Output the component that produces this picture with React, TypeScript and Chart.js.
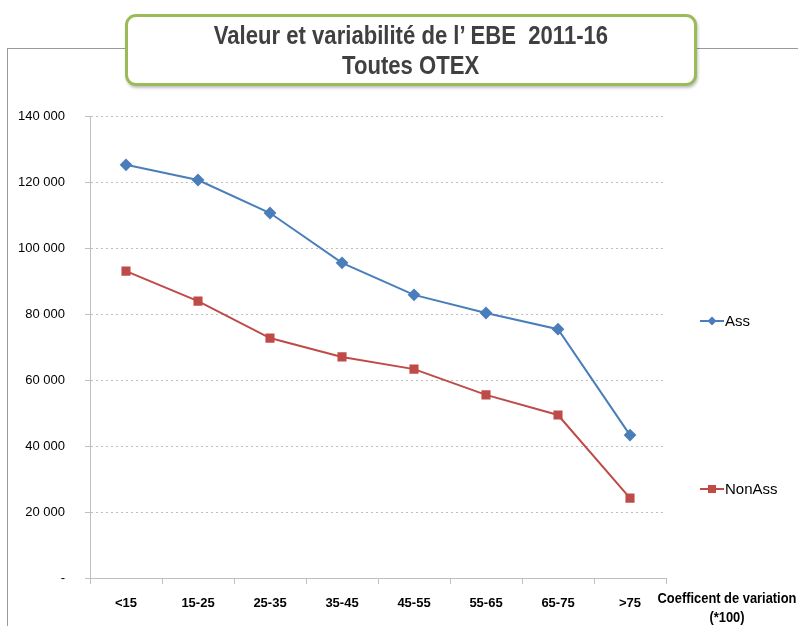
import React, { useEffect, useRef } from "react";
import { Chart, registerables } from "chart.js";

Chart.register(...registerables);

const categories = ["<15", "15-25", "25-35", "35-45", "45-55", "55-65", "65-75", ">75"];
const assValues = [125200, 120600, 110600, 95500, 85800, 80300, 75400, 43300];
const nonAssValues = [93000, 83900, 72700, 67000, 63300, 55500, 49400, 24200];
const yTickValues = [0, 20000, 40000, 60000, 80000, 100000, 120000, 140000];
const titleLines = ["Valeur et variabilité de l\u2019 EBE  2011-16", "Toutes OTEX"];
const xAxisTitle = ["Coefficent de variation", "(*100)"];

const fmt = (v: number) =>
  v === 0 ? "-" : String(v).replace(/\B(?=(\d{3})+(?!\d))/g, " ");

const legendPlugin = {
  id: "sideLegend",
  afterDraw(chart: any) {
    const ctx = chart.ctx;
    const ys = [321, 489];
    chart.data.datasets.forEach((ds: any, i: number) => {
      const y = ys[i];
      ctx.save();
      ctx.strokeStyle = ds.borderColor;
      ctx.lineWidth = 2;
      ctx.beginPath();
      ctx.moveTo(700, y);
      ctx.lineTo(724, y);
      ctx.stroke();
      ctx.fillStyle = ds.backgroundColor;
      if (ds.pointStyle === "rectRot") {
        ctx.beginPath();
        ctx.moveTo(712, y - 4.5);
        ctx.lineTo(716.5, y);
        ctx.lineTo(712, y + 4.5);
        ctx.lineTo(707.5, y);
        ctx.closePath();
        ctx.fill();
      } else {
        ctx.fillRect(708, y - 4, 8, 8);
      }
      ctx.fillStyle = "#000";
      ctx.font = "15px 'Liberation Sans', Arial, sans-serif";
      ctx.textBaseline = "middle";
      ctx.textAlign = "left";
      ctx.fillText(ds.label, 725, y + 1);
      ctx.restore();
    });
  },
};

export default function App() {
  const ref = useRef<HTMLCanvasElement>(null);

  useEffect(() => {
    document.body.style.margin = "0";
    const chart = new Chart(ref.current as HTMLCanvasElement, {
      type: "line",
      data: {
        labels: categories,
        datasets: [
          {
            label: "Ass",
            data: assValues,
            borderColor: "#4A7EBB",
            backgroundColor: "#4A7EBB",
            borderWidth: 2,
            pointStyle: "rectRot",
            pointRadius: 5,
            pointHoverRadius: 5,
            tension: 0,
          },
          {
            label: "NonAss",
            data: nonAssValues,
            borderColor: "#BE4B48",
            backgroundColor: "#BE4B48",
            borderWidth: 2,
            pointStyle: "rect",
            pointRadius: 5,
            pointHoverRadius: 5,
            tension: 0,
          },
        ],
      },
      options: {
        responsive: false,
        animation: false,
        layout: { padding: { left: 0, top: 116, right: 132, bottom: 0 } },
        plugins: {
          legend: { display: false },
          tooltip: { enabled: false },
          title: { display: false },
        },
        scales: {
          x: {
            offset: true,
            grid: {
              offset: true,
              drawOnChartArea: false,
              drawTicks: true,
              tickLength: 6,
              color: "#bfbfbf",
            },
            border: { display: true, color: "#bfbfbf", width: 1 },
            ticks: {
              color: "#000",
              padding: 12,
              maxRotation: 0,
              autoSkip: false,
              font: { family: "'Liberation Sans', Arial, sans-serif", size: 13, weight: "bold" },
            },
            afterFit(scale: any) {
              scale.height = 48;
            },
          },
          y: {
            min: 0,
            max: 140000,
            afterBuildTicks(scale: any) {
              scale.ticks = yTickValues.map((v) => ({ value: v }));
            },
            grid: {
              color: "#bfbfbf",
              drawTicks: true,
              tickLength: 5,
              tickBorderDash: [],
            },
            border: { display: true, color: "#bfbfbf", width: 1, dash: [2, 3] },
            ticks: {
              color: "#000",
              padding: 20,
              callback: (v: any) => fmt(Number(v)),
              font: { family: "'Liberation Sans', Arial, sans-serif", size: 13 },
            },
            afterFit(scale: any) {
              scale.width = 90;
            },
          },
        },
      },
      plugins: [legendPlugin],
    } as any);
    return () => chart.destroy();
  }, []);

  return (
    <div style={{ position: "relative", width: 798, height: 626, overflow: "hidden", background: "#fff" }}>
      <div style={{ position: "absolute", left: 7, top: 48, width: 791, height: 578, borderLeft: "1px solid #9a9a9a", borderTop: "1px solid #9a9a9a" }} />
      <canvas ref={ref} width={798} height={626} style={{ position: "absolute", left: 0, top: 0, width: 798, height: 626 }} />
      <div
        style={{
          position: "absolute",
          left: 125,
          top: 14,
          width: 572,
          height: 72,
          boxSizing: "border-box",
          border: "3px solid #9BBB59",
          borderRadius: 11,
          background: "#fff",
          boxShadow: "1px 2px 3px rgba(0,0,0,0.25)",
          display: "flex",
          flexDirection: "column",
          alignItems: "center",
          justifyContent: "center",
          fontFamily: "'Liberation Sans', Arial, sans-serif",
          fontWeight: "bold",
          fontSize: 26,
          lineHeight: "30px",
          color: "#404040",
        }}
      >
        {titleLines.map((t, i) => (
          <div key={i} style={{ whiteSpace: "pre", transform: "scaleX(0.85)", transformOrigin: "center" }}>{t}</div>
        ))}
      </div>
      <div
        style={{
          position: "absolute",
          left: 647,
          top: 589,
          width: 160,
          textAlign: "center",
          fontFamily: "'Liberation Sans', Arial, sans-serif",
          fontWeight: "bold",
          fontSize: 14,
          lineHeight: "19px",
          color: "#000",
        }}
      >
        {xAxisTitle.map((t, i) => (
          <div key={i} style={{ whiteSpace: "pre", transform: "scaleX(0.92)", transformOrigin: "center" }}>{t}</div>
        ))}
      </div>
    </div>
  );
}
